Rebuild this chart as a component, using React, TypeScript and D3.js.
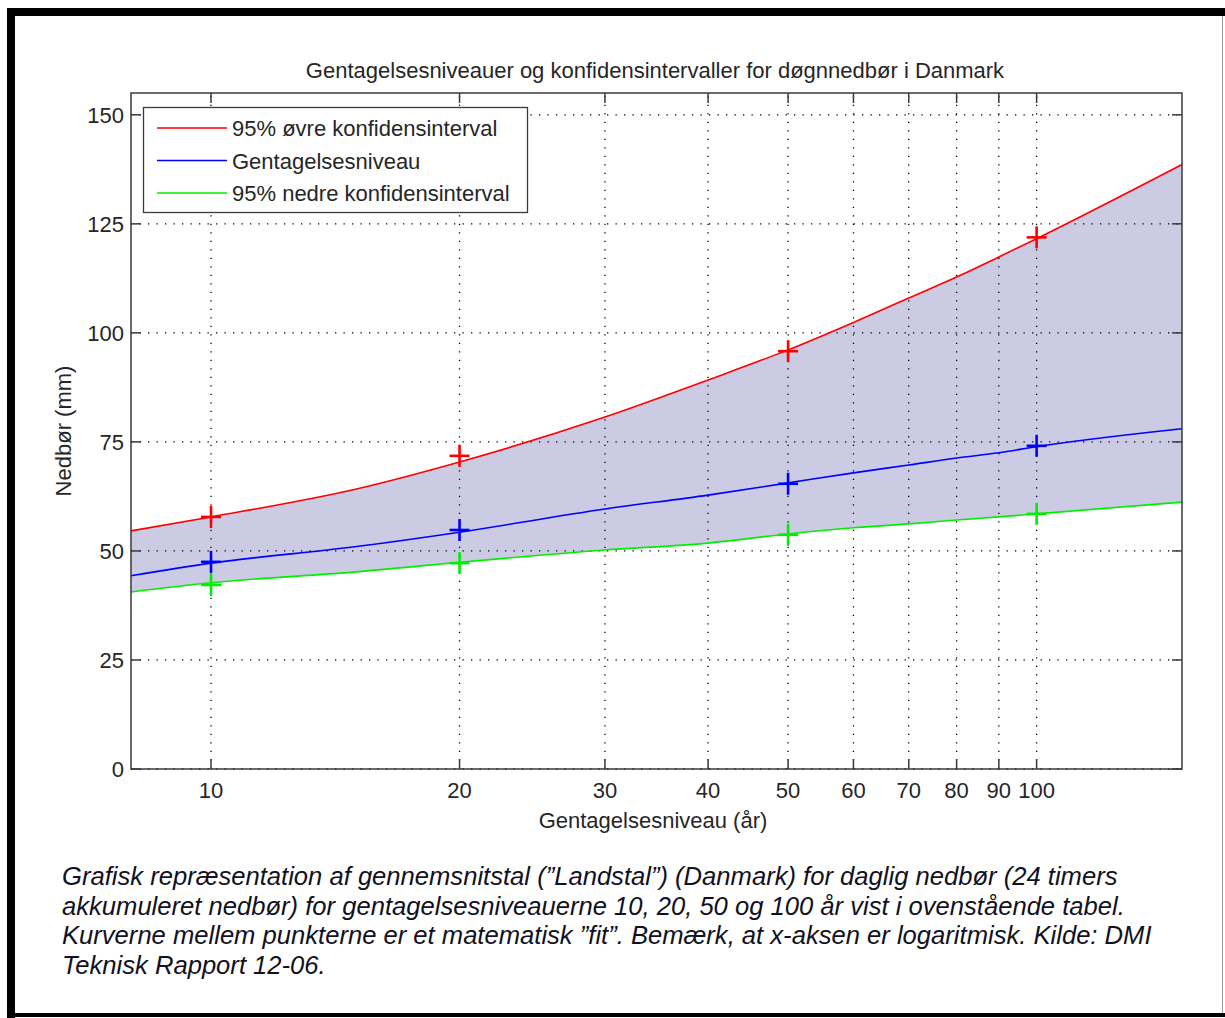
import React from "react";
import * as d3 from "d3";

// return periods (years) where the fitted curves were read
const curveYears = [8, 10, 15, 20, 30, 40, 50, 60, 70, 80, 90, 100, 150];
const upperCurve = [54.6, 57.8, 64.2, 70.4, 80.7, 89.2, 96.1, 102.4, 108.0, 112.8, 117.4, 121.6, 138.6];
const levelCurve = [44.3, 47.2, 51.0, 54.3, 59.6, 62.8, 65.6, 67.9, 69.7, 71.3, 72.5, 73.9, 78.0];
const lowerCurve = [40.6, 42.7, 45.2, 47.4, 50.2, 51.8, 53.9, 55.3, 56.2, 57.1, 57.8, 58.5, 61.2];

// table points
const pointYears = [10, 20, 50, 100];
const upperPoints = [57.8, 71.8, 95.8, 121.9];
const levelPoints = [47.5, 54.8, 65.4, 74.1];
const lowerPoints = [42.2, 47.2, 53.7, 58.5];

const xTicks = [10, 20, 30, 40, 50, 60, 70, 80, 90, 100];
const yTicks = [0, 25, 50, 75, 100, 125, 150];

const legendLabels = [
  "95% øvre konfidensinterval",
  "Gentagelsesniveau",
  "95% nedre konfidensinterval",
];

const captionLines = [
  "Grafisk repræsentation af gennemsnitstal (”Landstal”) (Danmark) for daglig nedbør (24 timers",
  "akkumuleret nedbør) for gentagelsesniveauerne 10, 20, 50 og 100 år vist i ovenstående tabel.",
  "Kurverne mellem punkterne er et matematisk ”fit”. Bemærk, at x-aksen er logaritmisk. Kilde: DMI",
  "Teknisk Rapport 12-06.",
];

const W = 1225;
const H = 1018;
const plot = { left: 131, right: 1182, top: 93, bottom: 769 };
const font = "'Liberation Sans', Arial, sans-serif";

export default function App() {
  const x = d3.scaleLog().domain([8, 150]).range([plot.left, plot.right]);
  const y = d3.scaleLinear().domain([0, 155]).range([plot.bottom, plot.top]);

  const lineFor = (vals: number[]) =>
    d3
      .line<number>()
      .x((_, i) => x(curveYears[i]))
      .y((d) => y(d))
      .curve(d3.curveMonotoneX)(vals) || "";

  const band =
    d3
      .area<number>()
      .x((_, i) => x(curveYears[i]))
      .y0((_, i) => y(lowerCurve[i]))
      .y1((d) => y(d))
      .curve(d3.curveMonotoneX)(upperCurve) || "";

  const series = [
    { curve: upperCurve, pts: upperPoints, color: "#ff0000" },
    { curve: levelCurve, pts: levelPoints, color: "#0000ff" },
    { curve: lowerCurve, pts: lowerPoints, color: "#00ee00" },
  ];

  const tickLen = 10;
  const axisColor = "#3a3a3a";
  const textColor = "#262626";

  return (
    <svg
      width={W}
      height={H}
      style={{ position: "absolute", left: 0, top: 0, background: "#fff" }}
      fontFamily={font}
    >
      {/* picture frame */}
      <rect x={7} y={8} width={W - 7} height={8} fill="#000" />
      <rect x={7} y={8} width={8} height={1010} fill="#000" />
      <rect x={7} y={1013} width={W - 7} height={4} fill="#000" />
      <line x1={1222.5} x2={1222.5} y1={16} y2={1013} stroke="#999" />

      <text x={655} y={78} textAnchor="middle" fontSize={22} fill={textColor}>
        Gentagelsesniveauer og konfidensintervaller for døgnnedbør i Danmark
      </text>

      <path d={band} fill="#cbcbe4" />

      {/* dotted grid */}
      <g stroke="#000" strokeWidth={1.3} strokeDasharray="1.3 7.2">
        {xTicks.map((t) => (
          <line key={"gx" + t} x1={x(t)} x2={x(t)} y1={plot.bottom} y2={plot.top} />
        ))}
        {yTicks.map((t) => (
          <line key={"gy" + t} x1={plot.left} x2={plot.right} y1={y(t)} y2={y(t)} />
        ))}
      </g>

      {series.map((s) => (
        <path key={s.color} d={lineFor(s.curve)} fill="none" stroke={s.color} strokeWidth={1.6} />
      ))}

      {series.map((s) =>
        s.pts.map((v, i) => (
          <g key={s.color + i} stroke={s.color} strokeWidth={2.6}>
            <line x1={x(pointYears[i]) - 10} x2={x(pointYears[i]) + 10} y1={y(v)} y2={y(v)} />
            <line x1={x(pointYears[i])} x2={x(pointYears[i])} y1={y(v) - 11} y2={y(v) + 11} />
          </g>
        ))
      )}

      {/* axes box and ticks */}
      <rect
        x={plot.left}
        y={plot.top}
        width={plot.right - plot.left}
        height={plot.bottom - plot.top}
        fill="none"
        stroke={axisColor}
        strokeWidth={1.5}
      />
      <g stroke={axisColor} strokeWidth={1.5}>
        {xTicks.map((t) => (
          <g key={"tx" + t}>
            <line x1={x(t)} x2={x(t)} y1={plot.bottom} y2={plot.bottom - tickLen} />
            <line x1={x(t)} x2={x(t)} y1={plot.top} y2={plot.top + tickLen} />
          </g>
        ))}
        {yTicks.map((t) => (
          <g key={"ty" + t}>
            <line x1={plot.left} x2={plot.left + tickLen} y1={y(t)} y2={y(t)} />
            <line x1={plot.right} x2={plot.right - tickLen} y1={y(t)} y2={y(t)} />
          </g>
        ))}
      </g>

      <g fontSize={22} fill={textColor}>
        {xTicks.map((t) => (
          <text key={"lx" + t} x={x(t)} y={plot.bottom + 29} textAnchor="middle">
            {t}
          </text>
        ))}
        {yTicks.map((t) => (
          <text key={"ly" + t} x={plot.left - 7} y={y(t) + 8} textAnchor="end">
            {t}
          </text>
        ))}
      </g>

      <text x={653} y={828} textAnchor="middle" fontSize={22} fill={textColor}>
        Gentagelsesniveau (år)
      </text>
      <text
        transform={`translate(71,431) rotate(-90)`}
        textAnchor="middle"
        fontSize={22}
        fill={textColor}
      >
        Nedbør (mm)
      </text>

      {/* legend */}
      <rect x={143.5} y={107.5} width={384} height={105} fill="#fff" stroke={axisColor} strokeWidth={1.3} />
      {legendLabels.map((label, i) => {
        const ly = 128 + i * 32.5;
        return (
          <g key={label}>
            <line x1={157} x2={227} y1={ly} y2={ly} stroke={series[i].color} strokeWidth={1.6} />
            <text x={232} y={ly + 8} fontSize={22} fill={textColor}>
              {label}
            </text>
          </g>
        );
      })}

      {/* caption */}
      <g fontSize={25.6} fontStyle="italic" fill="#111122">
        {captionLines.map((line, i) => (
          <text key={i} x={62} y={885 + i * 29.5}>
            {line}
          </text>
        ))}
      </g>
    </svg>
  );
}
